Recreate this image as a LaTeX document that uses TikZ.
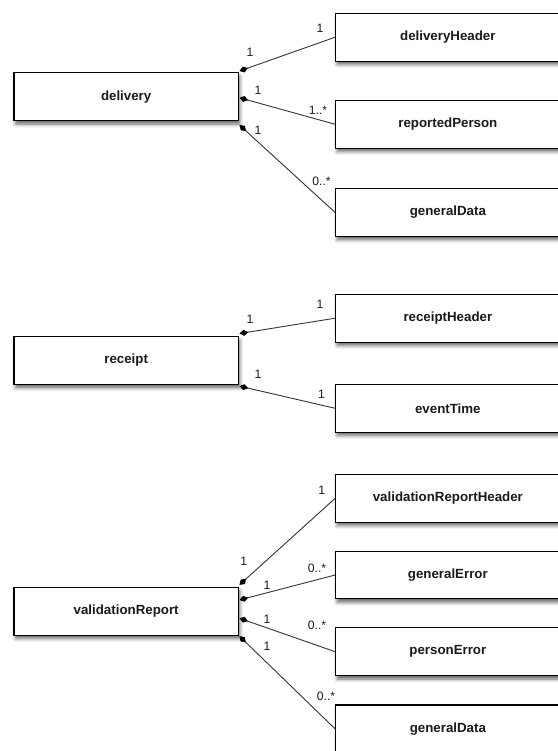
\documentclass[tikz,border=0pt]{standalone}
\usepackage{fontspec}
\setmainfont{Liberation Sans}
\usetikzlibrary{arrows.meta,calc,shadows.blur}

\definecolor{edgegray}{HTML}{333333}
\definecolor{inkgray}{HTML}{1A1A1A}

\tikzset{
  classbox/.style={draw=black, line width=1.1pt, fill=white,
    minimum width=224.3pt, minimum height=47.8pt, inner sep=0pt,
    font=\fontsize{13.3}{15}\selectfont\bfseries, text=inkgray,
    blur shadow={shadow xshift=1.5pt, shadow yshift=-3.5pt,
      shadow blur radius=3.5pt, shadow opacity=60}},
  assoc/.style={draw=edgegray, line width=0.9pt,
    -{Diamond[length=9pt,width=6pt,color=black]}},
  mult/.style={font=\fontsize{12.2}{14}\selectfont, text=inkgray, inner sep=0pt},
}

\begin{document}
\begin{tikzpicture}[x=1pt, y=-1pt]
\useasboundingbox (0,0) rectangle (557,751);

% ---- delivery ----
\node[classbox] (delivery) at (126.15,96.75) {delivery};
\node[classbox] (dh) at (447.85,37.2) {deliveryHeader};
\node[classbox] (rp) at (447.85,124.3) {reportedPerson};
\node[classbox] (gd) at (447.85,212.5) {generalData};

\draw[assoc] (dh.west) -- ($(delivery.north east)+(0.6,-1.25)$);
\draw[assoc] (rp.west) -- ($(delivery.east)+(0.6,1)$);
\draw[assoc] (gd.west) -- ($(delivery.south east)+(0.6,3.8)$);

\node[mult] (dm1) at (320,28.3) {1};
\node[mult] (dm2) at (250,52.3) {1};
\node[mult] (dm3) at (258,90) {1};
\node[mult] (dm4) at (318,110.5) {1..*};
\node[mult] (dm5) at (258,130.7) {1};
\node[mult] (dm6) at (321.5,181) {0..*};

% ---- receipt ----
\node[classbox] (receipt) at (126.15,360.5) {receipt};
\node[classbox] (rh) at (447.85,318.2) {receiptHeader};
\node[classbox] (et) at (447.85,408.3) {eventTime};

\draw[assoc] (rh.west) -- ($(receipt.north east)+(0.6,-2.5)$);
\draw[assoc] (et.west) -- ($(receipt.south east)+(0.6,1.2)$);

\node[mult] (rm1) at (320,304) {1};
\node[mult] (rm2) at (250,319.3) {1};
\node[mult] (rm3) at (258,374.3) {1};
\node[mult] (rm4) at (321.5,394) {1};

% ---- validationReport ----
\node[classbox] (vr) at (126.15,611.2) {validationReport};
\node[classbox] (vrh) at (447.85,498.3) {validationReportHeader};
\node[classbox] (ge) at (447.85,575) {generalError};
\node[classbox] (pe) at (447.85,651.7) {personError};
\node[classbox] (gd2) at (447.85,728.9) {generalData};

\draw[assoc] (vrh.west) -- ($(vr.north east)+(0.6,-1.9)$);
\draw[assoc] (ge.west) -- ($(vr.north east)+(0.6,13.2)$);
\draw[assoc] (pe.west) -- ($(vr.south east)+(0.6,-17.4)$);
\draw[assoc] (gd2.west) -- ($(vr.south east)+(0.6,0.5)$);

\node[mult] (vm1) at (321.7,490.7) {1};
\node[mult] (vm2) at (243.7,561) {1};
\node[mult] (vm3) at (317,568) {0..*};
\node[mult] (vm4) at (267,585) {1};
\node[mult] (vm5) at (267,619) {1};
\node[mult] (vm6) at (317,625.5) {0..*};
\node[mult] (vm7) at (267,646.5) {1};
\node[mult] (vm8) at (326,696) {0..*};
\end{tikzpicture}
\end{document}
